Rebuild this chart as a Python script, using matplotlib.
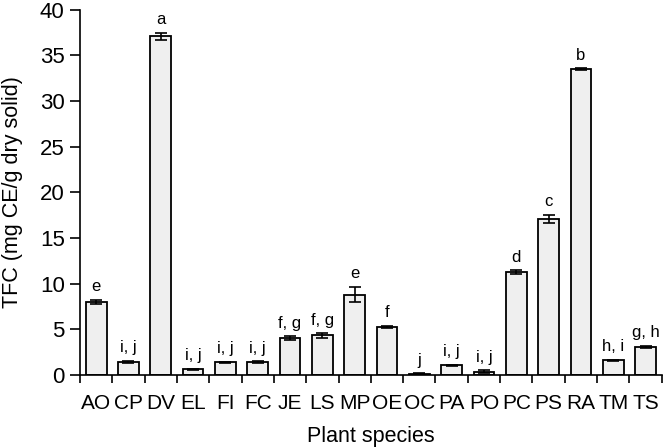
import numpy as np
import matplotlib
matplotlib.use("Agg")
import matplotlib.pyplot as plt

plt.rcParams["font.family"] = ["Liberation Sans", "DejaVu Sans"]

# --------------------------------------------------
# Data
# --------------------------------------------------

species = ["AO", "CP", "DV", "EL", "FI", "FC", "JE", "LS", "MP",
           "OE", "OC", "PA", "PO", "PC", "PS", "RA", "TM", "TS"]
tfc = [8.0, 1.45, 37.1, 0.62, 1.4, 1.45, 4.05, 4.35, 8.8,
       5.3, 0.12, 1.05, 0.35, 11.3, 17.1, 33.5, 1.6, 3.1]
tfc_err = [0.25, 0.1, 0.4, 0.08, 0.08, 0.08, 0.2, 0.25, 0.85,
           0.1, 0.05, 0.08, 0.15, 0.2, 0.45, 0.12, 0.1, 0.1]
letters = ["e", "i, j", "a", "i, j", "i, j", "i, j", "f, g", "f, g", "e",
           "f", "j", "i, j", "i, j", "d", "c", "b", "h, i", "g, h"]

# --------------------------------------------------
# Plot
# --------------------------------------------------

fig = plt.figure(figsize=(6.64, 4.47), dpi=100)
ax = fig.add_axes([0.1205, 0.161, 0.876, 0.817])

x = np.arange(len(species))

ax.bar(
    x,
    tfc,
    width=0.64,
    color="#efefef",
    edgecolor="black",
    linewidth=1.3,
)

ax.errorbar(
    x,
    tfc,
    yerr=tfc_err,
    fmt="none",
    ecolor="black",
    elinewidth=1.2,
    capsize=4,
    capthick=1.2,
)

# Significance letters
for xi, val, err, lab in zip(x, tfc, tfc_err, letters):
    ax.text(
        xi,
        val + err + 0.6,
        lab,
        ha="center",
        va="bottom",
        fontsize=12,
    )

ax.set_xlim(-0.5, len(species) - 0.5)
ax.set_ylim(0, 40)
ax.set_yticks(np.arange(0, 41, 5))

# ticks at category boundaries, labels at centers
ax.set_xticks(np.arange(-0.5, len(species), 1.0))
ax.set_xticklabels([])
ax.set_xticks(x, minor=True)
ax.set_xticklabels(species, minor=True)
ax.tick_params(axis="x", which="major", length=6, width=1.2)
ax.tick_params(axis="x", which="minor", length=0, labelsize=15, pad=14)
ax.tick_params(axis="y", length=7, width=1.2, labelsize=16, pad=4)

ax.spines["top"].set_visible(False)
ax.spines["right"].set_visible(False)
ax.spines["left"].set_linewidth(1.2)
ax.spines["bottom"].set_linewidth(1.2)

ax.set_xlabel("Plant species", fontsize=15.5, labelpad=9)
ax.set_ylabel("TFC (mg CE/g dry solid)", fontsize=15.5, labelpad=12)

plt.savefig("out.png", dpi=100)
plt.close()
